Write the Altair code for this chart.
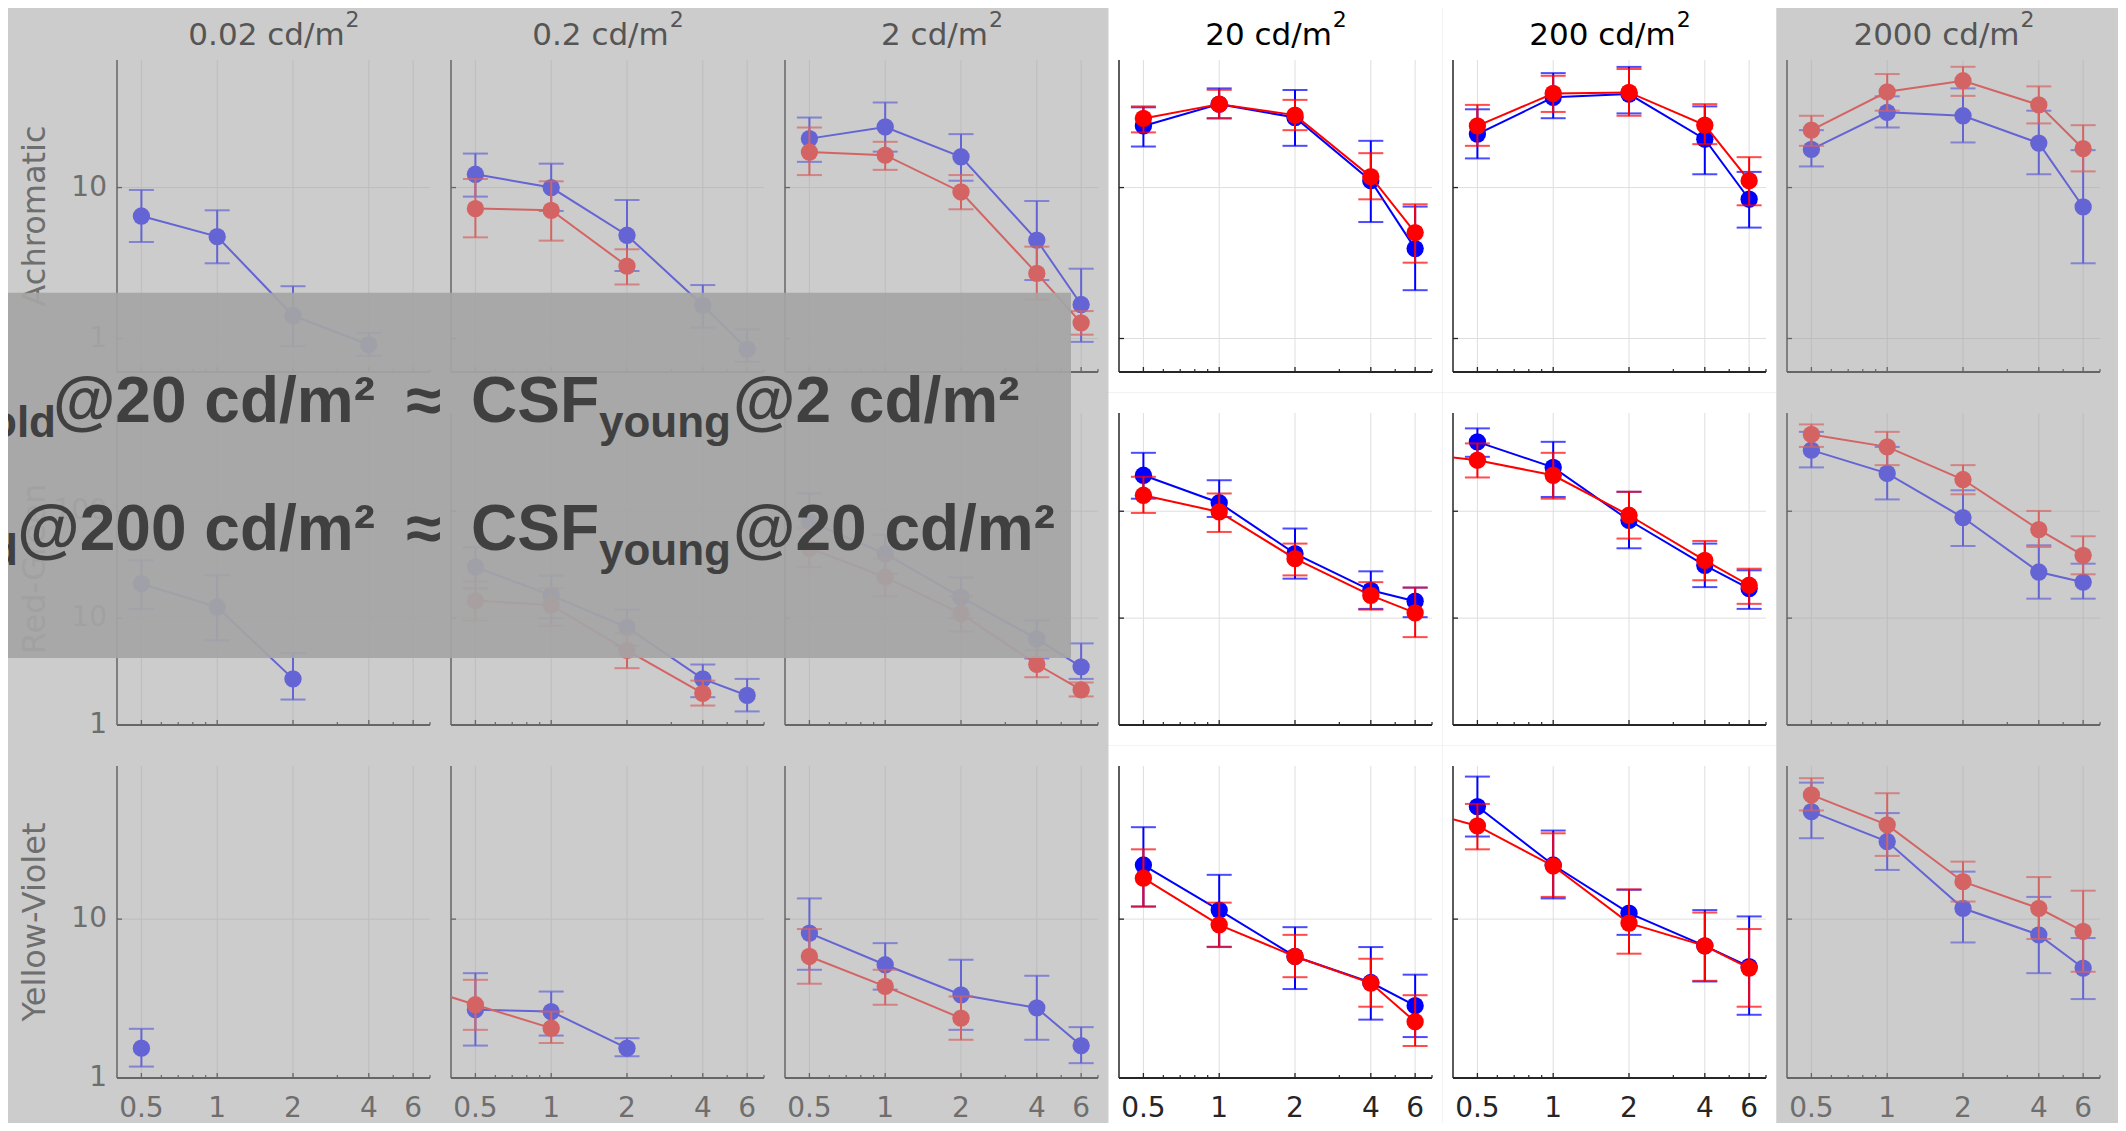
import altair as alt
import pandas as pd

# ---------------- data ----------------
FREQS = [0.5, 1, 2, 4, 6]
FREQ_LABELS = ["0.5", "1", "2", "4", "6"]
MINOR_FREQS = [0.6, 0.7, 0.8, 0.9, 3, 5, 7]
LUMINANCES = ["0.02", "0.2", "2", "20", "200", "2000"]
ROW_NAMES = ["Achromatic", "Red-Green", "Yellow-Violet"]
HIGHLIGHT_COLS = [3, 4]

Y_DOMAINS = [[0.6, 70], [1, 830], [1, 92]]
Y_GRID = [[1, 10], [10, 100], [10]]
Y_LABEL_VALUES = [[1, 10], [1, 10, 100], [1, 10]]
Y_LABELS = [["1", "10"], ["1", "10", "100"], ["1", "10"]]

N = None
# Achromatic, young (blue)
ACH_YOUNG = [[6.48, 4.73, 1.42, 0.91, N], [12.25, 10.0, 4.83, 1.66, 0.85], [21.1, 25.2, 16.0, 4.49, 1.68],
             [25.6, 35.7, 29.1, 11.1, 3.94], [22.6, 39.6, 41.6, 20.9, 8.37], [17.9, 31.5, 29.9, 19.7, 7.44]]
ACH_YOUNG_LO = [[4.36, 3.15, 0.89, 0.77, N], [8.71, 7.0, 2.8, 1.18, 0.7], [14.8, 17.3, 11.1, 2.44, 0.95],
                [18.7, 28.8, 18.9, 5.91, 2.09], [15.6, 28.8, 31.0, 12.25, 5.43], [13.8, 25.0, 19.9, 12.25, 3.15]]
ACH_YOUNG_HI = [[9.64, 7.07, 2.22, 1.09, N], [16.8, 14.4, 8.27, 2.26, 1.15], [29.1, 36.6, 22.6, 8.15, 2.9],
                [34.0, 45.4, 44.3, 20.4, 7.48], [33.0, 57.3, 63.0, 34.5, 12.7], [24.0, 40.2, 45.4, 32.3, 17.7]]
# Achromatic, old (red)
ACH_OLD = [[N, N, N, N, N], [7.26, 7.07, 3.02, N, N], [17.2, 16.4, 9.35, 2.70, 1.27],
           [28.7, 35.7, 30.2, 11.8, 5.03], [25.6, 42.0, 42.7, 25.9, 11.1], [24.0, 43.1, 51.0, 35.3, 18.1]]
ACH_OLD_LO = [[N, N, N, N, N], [4.68, 4.45, 2.28, N, N], [12.1, 13.1, 7.18, 1.81, 1.06],
              [23.2, 28.7, 24.0, 8.36, 3.18], [18.9, 31.7, 29.9, 19.4, 7.63], [18.9, 32.3, 40.5, 26.6, 12.8]]
ACH_OLD_HI = [[N, N, N, N, N], [11.4, 11.0, 3.9, N, N], [25.0, 20.1, 12.1, 4.06, 1.52],
              [34.5, 44.4, 38.1, 16.9, 7.75], [35.3, 55.0, 61.0, 35.7, 15.9], [29.9, 56.5, 63.1, 46.8, 25.9]]
# Red-Green, young
RG_YOUNG = [[21.0, 12.7, 2.7, N, N], [30.1, 16.3, 8.2, 2.7, 1.89], [80, 40, 15.7, 6.4, 3.5],
            [217, 120, 40.1, 18.2, 14.4], [446, 257, 82.3, 31.2, 18.9], [373, 226, 87.3, 27.0, 21.7]]
RG_YOUNG_LO = [[12.2, 6.2, 1.73, N, N], [19.0, 10.0, 5.5, 1.82, 1.34], [45, 26, 10, 4.2, 2.7],
               [131, 88.4, 23.4, 12.2, 10.2], [323, 136, 45, 19.5, 12.2], [257, 129, 47.3, 15.2, 15.2]]
RG_YOUNG_HI = [[34.8, 25.2, 4.7, N, N], [46.0, 25.0, 12.0, 3.68, 2.7], [147, 60, 24, 9.5, 5.8],
               [352, 195, 68.9, 27.4, 19.3], [596, 446, 152, 49.8, 28.0], [553, 400, 157, 48, 32.3]]
# Red-Green, old
RG_OLD = [[N, N, N, N, N], [14.6, 13.2, 5.0, 1.98, N], [45, 24.2, 11.0, 3.7, 2.13],
          [141, 98.5, 36.0, 16.3, 11.2], [300, 217, 91.7, 34.7, 20.3], [523, 400, 198, 67.4, 38.7]]
RG_OLD_LO = [[N, N, N, N, N], [9.5, 8.5, 3.4, 1.52, N], [30, 16, 7.5, 2.8, 1.85],
             [96.4, 64, 25.1, 12.0, 6.64], [207, 131, 55.5, 22.6, 13.6], [400, 270, 144, 46.3, 25.7]]
RG_OLD_HI = [[N, N, N, N, N], [22, 19, 7.2, 2.6, N], [70, 36, 16, 5.0, 2.5],
             [210, 146.6, 49.8, 21.7, 19.3], [431, 352, 152, 52.7, 29.0], [649, 553, 270, 100.6, 58.3]]
# Yellow-Violet, young
YV_YOUNG = [[1.54, N, N, N, N], [2.69, 2.62, 1.54, N, N], [8.17, 5.16, 3.34, 2.76, 1.6],
            [21.9, 11.4, 5.82, 3.99, 2.85], [51.1, 21.9, 10.9, 6.79, 5.03], [47.5, 30.8, 11.7, 7.96, 4.92]]
YV_YOUNG_LO = [[1.18, N, N, N, N], [1.6, 1.85, 1.37, N, N], [4.8, 3.6, 2.01, 1.74, 1.24],
               [12.0, 6.7, 3.63, 2.33, 1.81], [33.1, 13.5, 7.96, 4.05, 2.5], [32.3, 20.4, 7.13, 4.57, 3.14]]
YV_YOUNG_HI = [[2.04, N, N, N, N], [4.57, 3.5, 1.78, N, N], [13.5, 7.06, 5.55, 4.4, 2.09],
               [37.9, 19.0, 8.9, 6.67, 4.47], [78.9, 36.1, 15.3, 11.4, 10.4], [72.3, 46.5, 19.9, 13.8, 7.6]]
# Yellow-Violet, old
YV_OLD = [[N, N, N, N, N], [2.89, 2.06, N, N, N], [5.82, 3.77, 2.38, N, N],
          [18.1, 9.21, 5.82, 3.96, 2.26], [38.6, 21.6, 9.44, 6.79, 4.92], [60.5, 39.2, 17.2, 11.7, 8.36]]
YV_OLD_LO = [[N, N, N, N, N], [2.01, 1.66, N, N, N], [3.92, 2.89, 1.74, N, N],
             [12.0, 6.67, 4.31, 2.81, 1.59], [27.5, 13.8, 6.06, 4.09, 2.81], [48.3, 25.0, 12.9, 7.5, 4.66]]
YV_OLD_HI = [[N, N, N, N, N], [4.15, 2.62, N, N, N], [8.66, 4.8, 3.26, N, N],
             [27.5, 12.7, 7.96, 5.63, 3.32], [53.1, 34.7, 15.4, 11.0, 8.66], [77.1, 62.0, 23.0, 18.4, 15.1]]

# old-observer curves that continue below the plotted frequency range (clipped at the axis)
EXT_ROW = [1, 2, 2]
EXT_COL = [4, 1, 4]
EXT_FREQ = [0.25, 0.25, 0.25]
EXT_VAL = [359, 4.07, 52.2]

OVERLAY_LINES = [
    ["CSF", "old", "@20 cd/m²", "≈", "CSF", "young", "@2 cd/m²"],
    ["CSF", "old", "@200 cd/m²", "≈", "CSF", "young", "@20 cd/m²"],
]

# ---------------- table ----------------
SERIES = {
    (0, "young"): (ACH_YOUNG, ACH_YOUNG_LO, ACH_YOUNG_HI),
    (0, "old"): (ACH_OLD, ACH_OLD_LO, ACH_OLD_HI),
    (1, "young"): (RG_YOUNG, RG_YOUNG_LO, RG_YOUNG_HI),
    (1, "old"): (RG_OLD, RG_OLD_LO, RG_OLD_HI),
    (2, "young"): (YV_YOUNG, YV_YOUNG_LO, YV_YOUNG_HI),
    (2, "old"): (YV_OLD, YV_OLD_LO, YV_OLD_HI),
}
recs = []
for (r, g), (v, lo, hi) in SERIES.items():
    for c in range(6):
        for k, f in enumerate(FREQS):
            if v[c][k] is not None:
                recs.append(dict(row=r, col=c, group=g, freq=f, val=v[c][k], lo=lo[c][k], hi=hi[c][k]))
DF = pd.DataFrame(recs)
EXT = pd.DataFrame(dict(row=EXT_ROW, col=EXT_COL, group="old", freq=EXT_FREQ, val=EXT_VAL))

# ---------------- layout / style ----------------
W, H = 313, 312
SPC, SPR = 21, 41
LEFT0, TOP0 = 117, 60
PAGE_W, PAGE_H = 2126, 1131
FADED = dict(young="#6464d4", old="#d46464", grid="#bdbdbd", axis="#666666", text="#6e6e6e",
             title="#555555", bg="#cccccc")
BRIGHT = dict(young="#0000ff", old="#ff0000", grid="#dedede", axis="#262626", text="#262626",
              title="#000000", bg="#ffffff")
DV = {"0": .636, "1": .636, "2": .636, "3": .636, "4": .636, "5": .636, "6": .636, "7": .636,
      "8": .636, "9": .636, ".": .318, " ": .318, "c": .55, "d": .635, "/": .337, "m": .974}
ONE = pd.DataFrame({"k": [0]})
FONT = "DejaVu Sans"


def vtext(txt, x, y, **kw):
    return alt.Chart(ONE).mark_text(text=txt, **kw).encode(x=alt.value(x), y=alt.value(y))


def panel(r, c):
    st = BRIGHT if c in HIGHLIGHT_COLS else FADED
    xs = alt.Scale(type="log", domain=[0.4, 7], nice=False)
    ys = alt.Scale(type="log", domain=Y_DOMAINS[r], nice=False)

    def X(f):
        return alt.X(f"{f}:Q", scale=xs, axis=None)

    def Y(f):
        return alt.Y(f"{f}:Q", scale=ys, axis=None)

    col_left = LEFT0 + c * (W + SPC)
    row_top = TOP0 + r * (H + SPR)
    x0 = -SPC / 2 if c > 0 else -(col_left + 300)
    x1 = W + SPC / 2 if c < 5 else PAGE_W - col_left
    y0 = -SPR / 2 if r > 0 else -row_top
    y1 = H + SPR / 2 if r < 2 else PAGE_H - row_top

    layers = [
        alt.Chart(ONE).mark_rect(color=st["bg"]).encode(
            x=alt.value(x0), x2=alt.value(x1), y=alt.value(y0), y2=alt.value(y1)),
        alt.Chart(pd.DataFrame({"v": Y_GRID[r]})).mark_rule(color=st["grid"], strokeWidth=1).encode(
            y=Y("v"), x=alt.value(0), x2=alt.value(W)),
        alt.Chart(pd.DataFrame({"f": FREQS})).mark_rule(color=st["grid"], strokeWidth=1).encode(
            x=X("f"), y=alt.value(0), y2=alt.value(H)),
        alt.Chart(ONE).mark_rule(color=st["axis"], strokeWidth=1.5).encode(
            x=alt.value(0), y=alt.value(0), y2=alt.value(H)),
        alt.Chart(ONE).mark_rule(color=st["axis"], strokeWidth=1.8).encode(
            x=alt.value(0), x2=alt.value(W), y=alt.value(H)),
        alt.Chart(pd.DataFrame({"f": FREQS})).mark_rule(color=st["axis"], strokeWidth=1.3).encode(
            x=X("f"), y=alt.value(H), y2=alt.value(H - 5)),
        alt.Chart(pd.DataFrame({"f": MINOR_FREQS})).mark_rule(color=st["axis"], strokeWidth=1.2).encode(
            x=X("f"), y=alt.value(H), y2=alt.value(H - 3)),
        alt.Chart(pd.DataFrame({"v": Y_GRID[r]})).mark_rule(color=st["axis"], strokeWidth=1.3).encode(
            y=Y("v"), x=alt.value(0), x2=alt.value(5)),
    ]

    for g in ["young", "old"]:
        d = DF[(DF.row == r) & (DF.col == c) & (DF.group == g)]
        if len(d) == 0:
            continue
        col = st[g]
        e = EXT[(EXT.row == r) & (EXT.col == c) & (EXT.group == g)]
        dl = pd.concat([e[["freq", "val"]], d[["freq", "val"]]]).sort_values("freq")
        layers += [
            alt.Chart(dl).mark_line(color=col, strokeWidth=2, clip=True).encode(
                x=X("freq"), y=Y("val"), order="freq:Q"),
            alt.Chart(d).mark_rule(color=col, strokeWidth=2).encode(
                x=X("freq"), y=Y("lo"), y2="hi:Q"),
            alt.Chart(d).mark_tick(color=col, orient="horizontal", size=25, thickness=2).encode(
                x=X("freq"), y=Y("lo")),
            alt.Chart(d).mark_tick(color=col, orient="horizontal", size=25, thickness=2).encode(
                x=X("freq"), y=Y("hi")),
            alt.Chart(d).mark_circle(color=col, size=300, opacity=1).encode(
                x=X("freq"), y=Y("val")),
        ]

    if r == 0:
        main = f"{LUMINANCES[c]} cd/m"
        mw = sum(DV[ch] for ch in main) * 31
        sw = 0.636 * 22
        xend = W / 2 + (mw + sw) / 2 - sw
        layers += [
            vtext(main, xend, -15, font=FONT, fontSize=31, align="right", baseline="alphabetic",
                  color=st["title"]),
            vtext("2", xend + 1, -33, font=FONT, fontSize=22, align="left", baseline="alphabetic",
                  color=st["title"]),
        ]
    if c == 0:
        layers += [
            vtext(ROW_NAMES[r], -72, H / 2, font=FONT, fontSize=32, angle=270, align="center",
                  baseline="alphabetic", color=st["text"]),
            alt.Chart(pd.DataFrame({"v": Y_LABEL_VALUES[r], "lab": Y_LABELS[r]})).mark_text(
                font=FONT, fontSize=28, align="right", baseline="middle", color=st["text"]).encode(
                y=Y("v"), x=alt.value(-10), text="lab:N"),
        ]
    if r == 2:
        layers.append(
            alt.Chart(pd.DataFrame({"f": FREQS, "lab": FREQ_LABELS})).mark_text(
                font=FONT, fontSize=28, align="center", baseline="alphabetic", color=st["text"]).encode(
                x=X("f"), y=alt.value(H + 38.7), text="lab:N"))

    if r == 1 and c == 2:
        ox, oy = col_left, row_top
        layers.append(
            alt.Chart(ONE).mark_rect(color="#a5a5a5", opacity=0.93).encode(
                x=alt.value(-300 - ox), x2=alt.value(1071 - ox),
                y=alt.value(292.7 - oy), y2=alt.value(658 - oy)))
        base_y = [421.7, 550.0]
        sub_x = [56, 18]
        csf_x = [-10, -48]
        for li, parts in enumerate(OVERLAY_LINES):
            by = base_y[li] - oy
            sy = by + 15
            spec = [
                (parts[0], csf_x[li], "right", 64, by),
                (parts[1], sub_x[li], "right", 44, sy),
                (parts[2], 375, "right", 64, by),
                (parts[3], 423.6, "center", 64, by),
                (parts[4], 471, "left", 64, by),
                (parts[5], 599, "left", 44, sy),
                (parts[6], 733, "left", 64, by),
            ]
            for txt, px, al, fs, yy in spec:
                layers.append(vtext(txt, px - ox, yy, font="Liberation Sans", fontWeight="bold",
                                    fontSize=fs, align=al, baseline="alphabetic", color="#404040"))

    return alt.layer(*layers).properties(width=W, height=H)


panels = [panel(r, c) for r in range(3) for c in range(6)]

chart = alt.concat(
    *panels, columns=6, spacing={"row": SPR, "column": SPC}, bounds="flush"
).resolve_scale(x="independent", y="independent").properties(
    padding={"left": -308, "top": -8, "right": -8, "bottom": -8}
).configure(background="#cccccc").configure_view(strokeWidth=0)

chart.save("out.html", embed_options={"renderer": "svg", "actions": False})
